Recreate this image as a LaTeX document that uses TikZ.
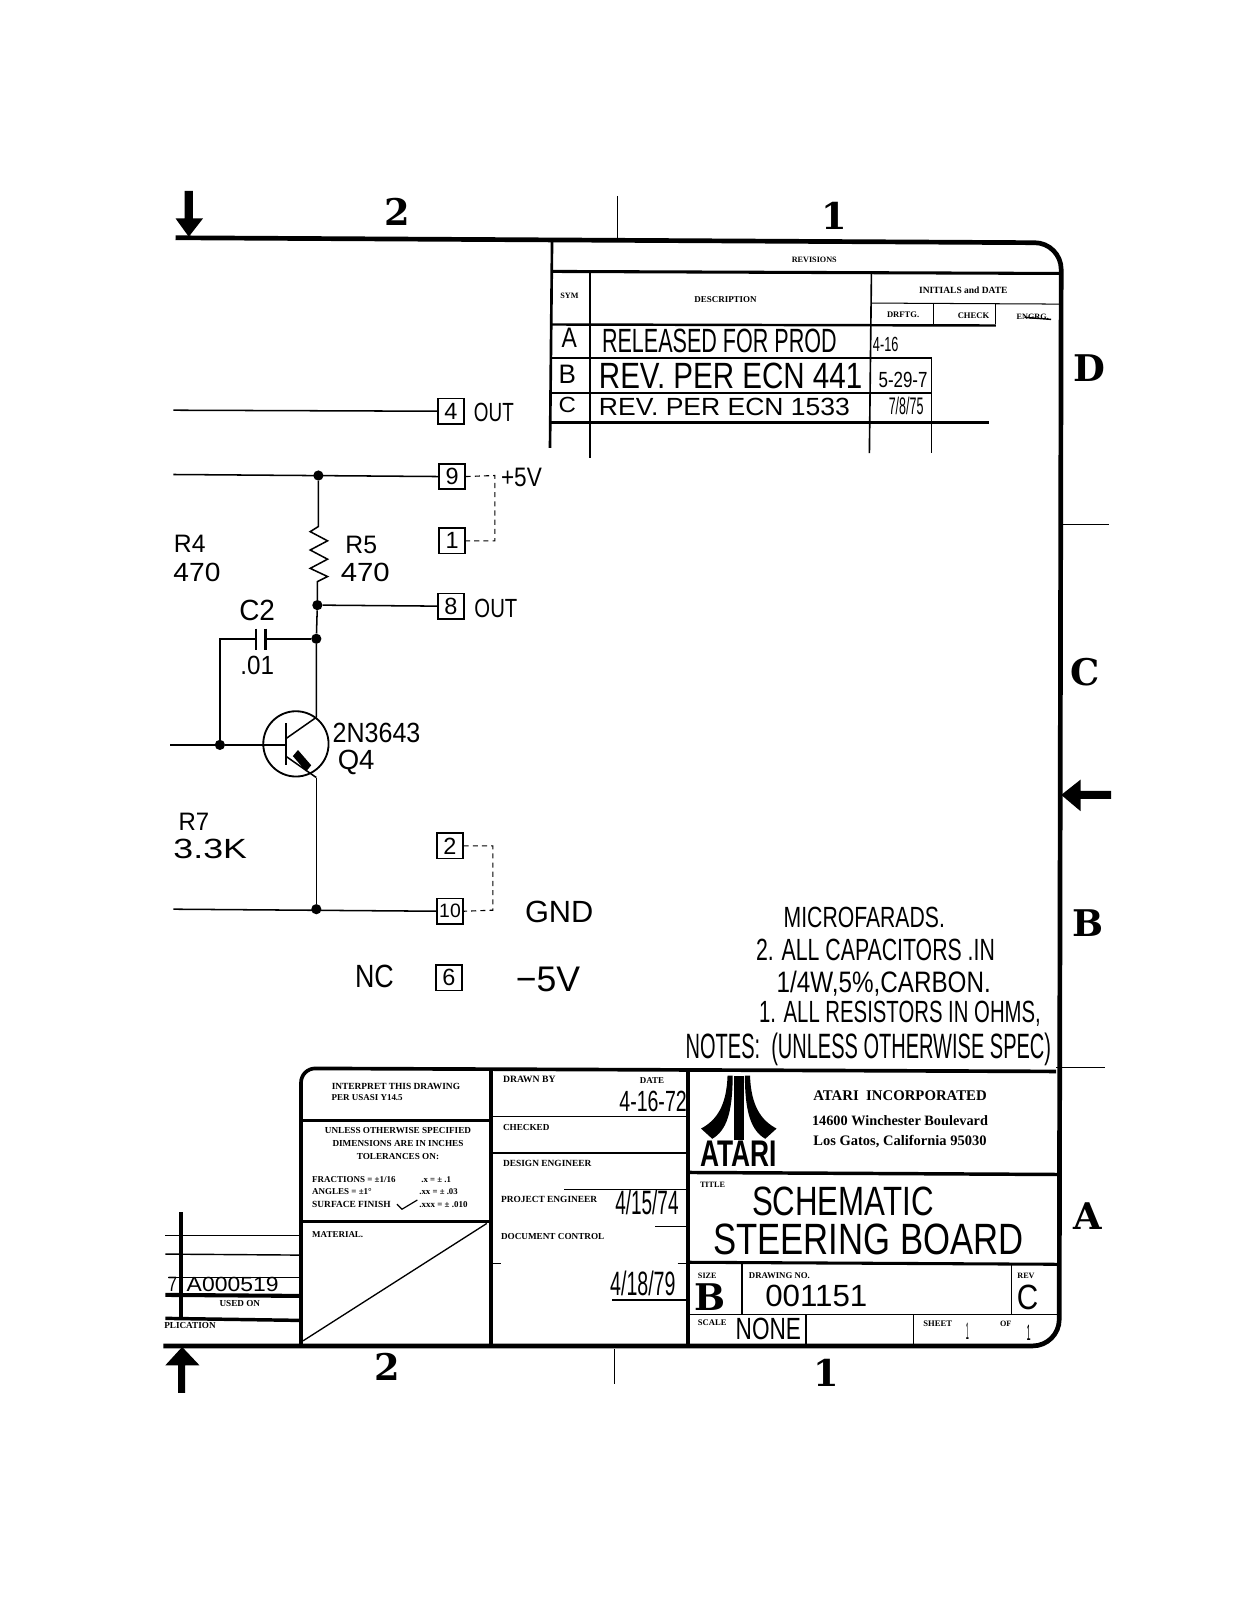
\documentclass[tikz,border=0pt]{standalone}
\usepackage{fontspec}
\usepackage{graphicx}
\setmainfont{Liberation Serif}
\newfontfamily\hwfont{Liberation Sans}
\newfontfamily\logofont{Liberation Sans}
\newfontfamily\slabfont{DejaVu Serif}
\newcommand{\hwx}[6]{\node[inner sep=0pt,outer sep=0pt] (#1) at (#2,#3) {\resizebox{#4pt}{#5pt}{\hwfont #6}};}
\newcommand{\ctrlab}[5]{\node[inner sep=0pt,outer sep=0pt,font=\fontsize{#4}{#4}\selectfont\bfseries] (#1) at (#2,#3) {#5};}
\newcommand{\lftlab}[5]{\node[inner sep=0pt,outer sep=0pt,anchor=west,font=\fontsize{#4}{#4}\selectfont\bfseries] (#1) at (#2,#3) {#5};}
\tikzset{
  x=1pt,y=-1pt,
  midb/.style={line width=2.4pt},
  thinb/.style={line width=1.5pt},
  wire/.style={line width=1.5pt},
  dash wire/.style={line width=1.1pt,dash pattern=on 5pt off 4pt},
  term/.style={draw,line width=1.6pt,minimum size=25pt,inner sep=0pt,font=\hwfont\fontsize{23}{23}\selectfont},
  jdot/.style={circle,fill=black,inner sep=0pt,minimum size=10pt},
  big/.style={inner sep=0pt,font=\slabfont\fontsize{36}{36}\selectfont\bfseries}
}
\begin{document}
\begin{tikzpicture}
\useasboundingbox (0,0) rectangle (1212.5,1568);
\fill[white] (0,0) rectangle (1212.5,1568);
% outer frame
\draw[line width=4.6pt,rounded corners=26pt] (172,233) -- (1040,238) -- (1038,1319) -- (160,1319);
\draw[thinb] (605,192) -- (605,233);
\draw[thinb] (602,1322) -- (602,1356);
\draw[thinb] (1040,514) -- (1087,514);
\draw[thinb] (1035,1046) -- (1083,1046);
% arrows
\fill (1040,779) -- (1059,764) -- (1059,775) -- (1089,775) -- (1089,783) -- (1059,783) -- (1059,795) -- cycle;
\fill (185,232) -- (172,214) -- (181,214) -- (181,187) -- (189,187) -- (189,214) -- (199,214) -- cycle;
\fill (178.5,1320) -- (162,1338) -- (174.5,1338) -- (174.5,1365) -- (181.5,1365) -- (181.5,1338) -- (195.5,1338) -- cycle;
% zone labels
\node[big] (z2t) at (389,208) {2};
\node[big] (z1t) at (818,212) {1};
\node[big] (z2b) at (380,1340) {2};
\node[big] (z1b) at (810,1345) {1};
\node[big] (zD) at (1068,361) {D};
\node[big] (zC) at (1063,659) {C};
\node[big] (zB) at (1066,905) {B};
\node[big] (zA) at (1066,1192) {A};
% revisions table
\draw[line width=2.6pt] (541,236) -- (539,439);
\draw[line width=1.6pt] (578,266) -- (578,449);
\draw[line width=1.6pt] (854,268) -- (852,444);
\draw[line width=1.6pt] (913,352) -- (913,444);
\draw[line width=1pt] (915,297) -- (915,318);
\draw[line width=1pt] (976,297) -- (976,318);
\draw[line width=3pt] (541,266) -- (1040,268);
\draw[line width=1pt] (854,297) -- (1038,298);
\draw[midb] (541,318) -- (976,319);
\draw[midb] (541,351) -- (913,351);
\draw[midb] (541,385) -- (913,385);
\draw[midb] (539,414) -- (969,414);
\ctrlab{tRev}{798}{255}{8}{REVISIONS}
\ctrlab{tSym}{558}{290}{8}{SYM}
\ctrlab{tDesc}{711}{294}{8.8}{DESCRIPTION}
\ctrlab{tInit}{944}{284}{9.3}{INITIALS and DATE}
\ctrlab{tDr}{885}{308}{8.4}{DRFTG.}
\ctrlab{tCh}{954}{309}{8.4}{CHECK}
\ctrlab{tEn}{1012}{311}{8}{ENGRG.}
\draw[line width=1.4pt] (1004,311) -- (1030,313);
\hwx{rA}{558}{331}{15}{19}{A}
\hwx{rAd}{705}{334}{230}{23}{RELEASED FOR PROD}
\hwx{rB}{556}{367}{17}{18}{B}
\hwx{rBd}{716}{368}{258}{25}{REV. PER ECN 441}
\hwx{rC}{556}{397}{17}{15}{C}
\hwx{rCd}{710}{399}{246}{17}{REV. PER ECN 1533}
\hwx{rAi}{868}{338}{25}{14}{4-16}
\hwx{rBi}{885}{372}{48}{15}{5-29-7}
\hwx{rCi}{888}{398}{34}{17}{7/8/75}
% schematic
\node[term] (t4) at (442,403) {4};
\node[term] (t9) at (443,467) {9};
\node[term] (t1) at (443,530) {1};
\node[term] (t8) at (442,594) {8};
\node[term] (t2) at (441,829) {2};
\node[term] (t10) at (441,893) {\fontsize{19}{19}\selectfont 10};
\node[term] (t6) at (440,958) {6};
\coordinate (l4) at (170,402);
\coordinate (l9) at (170,465);
\coordinate (lb) at (167,730);
\coordinate (l10) at (170,891);
\coordinate (dr9) at (485,466);
\coordinate (dr1) at (485,530);
\coordinate (dr2) at (483,829);
\coordinate (dr10) at (483,892);
\node[jdot] (j9) at (312,466) {};
\node[jdot] (j8) at (311,593) {};
\node[jdot] (jc) at (310,626) {};
\node[jdot] (jb) at (215.5,730) {};
\node[jdot] (j10) at (310,891) {};
\coordinate (p1) at (251,626);
\coordinate (p2) at (260,626);
\coordinate (col) at (310,703);
\coordinate (emi) at (310,762);
\draw[wire] (l4) -- (t4.west);
\draw[wire] (l9) -- (t9.west);
\draw[wire] (j8) -- (t8.west);
\draw[wire] (l10) -- (t10.west);
\draw[dash wire] (t9.east) -- (dr9) -- (dr1) -- (t1.east);
\draw[dash wire] (t2.east) -- (dr2) -- (dr10) -- (t10.east);
\draw[wire] (j9) -- (312,516) -- (304,521) -- (321,530) -- (304,539) -- (321,548) -- (304,557) -- (321,565) -- (311,570) -- (j8);
\draw[wire] (j8) -- (jc) -- (col);
\draw[wire] (jb) |- (p1);
\draw[wire] (p2) -- (jc);
\draw[line width=1.8pt] (251,616) -- (251,637);
\draw[line width=2.4pt] (260,616) -- (260,637);
\draw[wire] (lb) -- (jb) -- (280,730);
\draw[line width=1.8pt] (290,729) circle (32);
\draw[line width=1.8pt] (280,709) -- (280,750);
\draw[wire] (280,724) -- (col);
\draw[wire] (280,741) -- (emi);
\fill (287,741) -- (292,735) -- (305,750) -- (300,756) -- cycle;
\draw[wire] (emi) -- (j10);
\hwx{sOut1}{484}{404}{39}{18}{OUT}
\hwx{sP5}{511}{468}{40}{18}{+5V}
\hwx{sR4}{186}{533}{31}{17}{R4}
\hwx{sR4v}{193}{561}{46}{18}{470}
\hwx{sR5}{354}{534}{31}{17}{R5}
\hwx{sR5v}{358}{561}{48}{18}{470}
\hwx{sOut2}{486}{596}{42}{18}{OUT}
\hwx{sC2}{252}{598}{35}{20}{C2}
\hwx{sC2v}{252}{652}{33}{18}{.01}
\hwx{sQt}{369}{718}{86}{19}{2N3643}
\hwx{sQ4}{349}{747}{36}{19}{Q4}
\hwx{sR7}{190}{805}{30}{17}{R7}
\hwx{sR7v}{206}{832}{72}{19}{3.3K}
\hwx{sGnd}{548}{894}{67}{21}{GND}
\hwx{sNc}{367}{957}{38}{22}{NC}
\hwx{sM5}{537}{960}{63}{24}{−5V}
% notes
\hwx{n1}{847}{899}{158}{20}{MICROFARADS.}
\hwx{n2}{858}{931}{234}{21}{2. ALL CAPACITORS .IN}
\hwx{n3}{866}{964}{210}{21}{1/4W,5\%,CARBON.}
\hwx{n4}{882}{993}{276}{21}{1. ALL RESISTORS IN OHMS,}
\hwx{n5}{851}{1028}{358}{25}{NOTES:\ \ (UNLESS OTHERWISE SPEC)}
% left strip
\draw[line width=4pt] (177,1188) -- (177,1293);
\draw[line width=1.4pt] (162,1211) -- (295,1211);
\draw[line width=1.4pt] (162,1229) -- (295,1230);
\draw[line width=1.6pt] (165,1252) -- (295,1252);
\draw[line width=4pt] (162,1269) -- (295,1270);
\draw[line width=3.4pt] (162,1292) -- (295,1294);
\hwx{a7}{169}{1259}{9}{14}{7}
\hwx{aNum}{228}{1259}{90}{14}{A000519}
\ctrlab{aUsed}{235}{1277}{9}{USED ON}
\lftlab{aPl}{161}{1299}{9}{PLICATION}
% title block
\draw[line width=3.6pt,rounded corners=14pt] (295,1319) -- (295,1047) -- (1035,1050);
\draw[line width=3.6pt] (481,1047) -- (481,1319);
\draw[line width=3.6pt] (674,1050) -- (674,1319);
\draw[line width=3.6pt] (295,1098) -- (481,1098);
\draw[line width=3.6pt] (295,1197) -- (481,1197);
\draw[line width=1.3pt] (477,1199) -- (297,1314);
\draw[line width=1.4pt] (481,1094) -- (674,1094);
\draw[line width=1.2pt] (481,1130) -- (674,1130);
\draw[line width=1.2pt] (553,1166) -- (674,1166);
\draw[line width=1.2pt] (642,1202) -- (674,1202);
\draw[line width=1.2pt] (664,1238) -- (674,1238);
\draw[line width=1.2pt] (481,1238) -- (491,1238);
\draw[line width=1.2pt] (600,1274) -- (674,1274);
\draw[line width=3.4pt] (674,1149) -- (1037,1151);
\draw[line width=3pt] (674,1237) -- (1037,1239);
\draw[line width=1.4pt] (674,1288) -- (1037,1288);
\draw[line width=1.4pt] (727,1239) -- (727,1288);
\draw[line width=1.4pt] (991,1239) -- (991,1288);
\draw[line width=1.4pt] (790,1288) -- (790,1319);
\draw[line width=1.4pt] (895,1288) -- (895,1319);
\ctrlab{b1}{388}{1065}{9.2}{INTERPRET THIS DRAWING}
\lftlab{b2}{325}{1076}{8.8}{PER USASI Y14.5}
\ctrlab{b3}{390}{1108}{9}{UNLESS OTHERWISE SPECIFIED}
\ctrlab{b4}{390}{1121}{9}{DIMENSIONS ARE IN INCHES}
\ctrlab{b5}{390}{1133}{9}{TOLERANCES ON:}
\lftlab{b6}{306}{1156}{8.8}{FRACTIONS = ±1/16}
\lftlab{b7}{306}{1168}{8.8}{ANGLES = ±1°}
\lftlab{b8}{306}{1180}{9.2}{SURFACE FINISH}
\draw[line width=1.2pt] (389,1180) -- (394,1185) -- (409,1176);
\lftlab{b9}{413}{1156}{8.6}{.x = ± .1}
\lftlab{b10}{411}{1168}{8.6}{.xx = ± .03}
\lftlab{b11}{411}{1180}{8.8}{.xxx = ± .010}
\lftlab{b12}{306}{1210}{8.8}{MATERIAL.}
\lftlab{c1}{493}{1058}{9.5}{DRAWN BY}
\ctrlab{c2}{639}{1059}{8.8}{DATE}
\hwx{c3}{640}{1079}{66}{20}{4-16-72}
\lftlab{c4}{493}{1105}{9}{CHECKED}
\lftlab{c5}{493}{1140}{9.2}{DESIGN ENGINEER}
\lftlab{c6}{491}{1175}{9.2}{PROJECT ENGINEER}
\hwx{c7}{634}{1178}{62}{24}{4/15/74}
\lftlab{c8}{491}{1212}{9}{DOCUMENT CONTROL}
\hwx{c9}{630}{1258}{64}{24}{4/18/79}
% Atari logo
\begin{scope}[shift={(724,0)}]
\fill (-5,1054) rectangle (5,1117);
\fill (-11,1054) -- (-6,1054) .. controls (-6,1090) and (-12,1108) .. (-26,1116) -- (-37,1106) .. controls (-22,1098) and (-12,1084) .. cycle;
\fill (11,1054) -- (6,1054) .. controls (6,1090) and (12,1108) .. (26,1116) -- (37,1106) .. controls (22,1098) and (12,1084) .. cycle;
\end{scope}
\node[inner sep=0pt] (logoT) at (723.5,1131) {\resizebox{75pt}{25pt}{\logofont\bfseries ATARI}};
\ctrlab{d1}{882}{1074}{14.5}{ATARI\ \ INCORPORATED}
\ctrlab{d2}{882}{1098}{14}{14600 Winchester Boulevard}
\ctrlab{d3}{882}{1119}{14.2}{Los Gatos, California 95030}
\lftlab{e1}{686}{1161}{8}{TITLE}
\hwx{e2}{826}{1177}{178}{28}{SCHEMATIC}
\hwx{e3}{851}{1215}{304}{30}{STEERING BOARD}
\lftlab{e4}{684}{1250}{8}{SIZE}
\node[inner sep=0pt,font=\slabfont\fontsize{36}{36}\selectfont\bfseries] (e5) at (696,1271) {B};
\lftlab{e6}{734}{1250}{8.6}{DRAWING NO.}
\hwx{e7}{800}{1270}{100}{21}{001151}
\lftlab{e8}{997}{1250}{8}{REV}
\hwx{e9}{1007}{1271}{21}{24}{C}
\lftlab{e10}{684}{1296}{8.4}{SCALE}
\hwx{e11}{753}{1302}{64}{21}{NONE}
\lftlab{e12}{905}{1297}{8.4}{SHEET}
\hwx{e13}{948}{1305}{3}{16}{1}
\lftlab{e14}{980}{1297}{8}{OF}
\hwx{e15}{1008}{1306}{4}{15}{1}
\end{tikzpicture}
\end{document}
